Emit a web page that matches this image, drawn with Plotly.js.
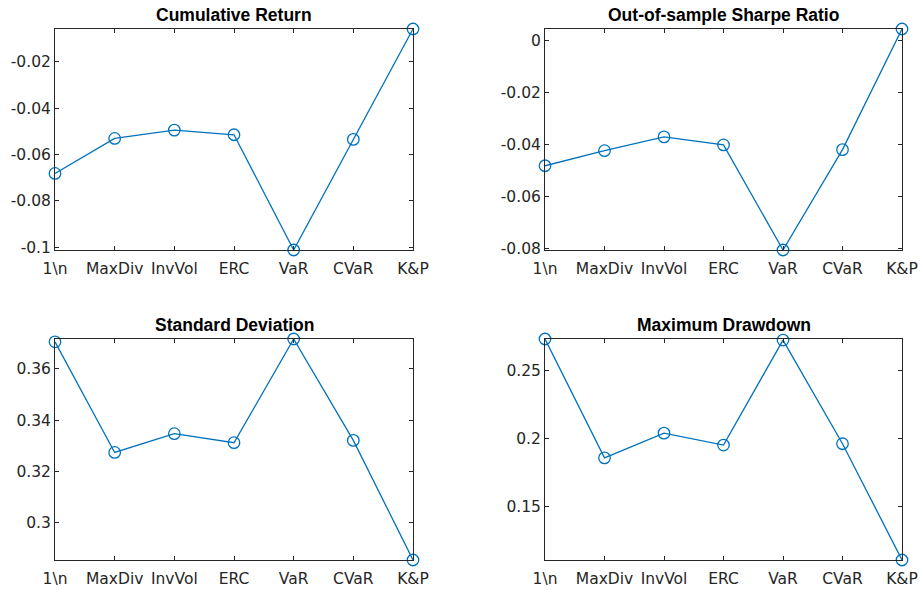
<!DOCTYPE html>
<html>
<head>
<meta charset="utf-8">
<script src="https://cdn.plot.ly/plotly-3.0.1.min.js"></script>
<style>html,body{margin:0;padding:0;background:#fff;}#chart{width:921px;height:590px;}</style>
</head>
<body>
<div id="chart"></div>
<script>
const categories = ['1\\n', 'MaxDiv', 'InvVol', 'ERC', 'VaR', 'CVaR', 'K&P'];

const cumulativeReturn = [-0.0682, -0.0531, -0.0495, -0.0515, -0.1012, -0.0535, -0.0059];
const sharpeRatio      = [-0.0481, -0.0423, -0.0370, -0.0401, -0.0805, -0.0419, 0.0045];
const stdDeviation     = [0.3705, 0.3274, 0.3347, 0.3312, 0.3716, 0.3321, 0.2855];
const maxDrawdown      = [0.2730, 0.1855, 0.2037, 0.1949, 0.2722, 0.1959, 0.1103];

const titles = ['Cumulative Return', 'Out-of-sample Sharpe Ratio', 'Standard Deviation', 'Maximum Drawdown'];

const ticksCR = [-0.1, -0.08, -0.06, -0.04, -0.02];
const labelsCR = ['-0.1', '-0.08', '-0.06', '-0.04', '-0.02'];
const ticksSR = [-0.08, -0.06, -0.04, -0.02, 0];
const labelsSR = ['-0.08', '-0.06', '-0.04', '-0.02', '0'];
const ticksSD = [0.30, 0.32, 0.34, 0.36];
const labelsSD = ['0.3', '0.32', '0.34', '0.36'];
const ticksMD = [0.15, 0.20, 0.25];
const labelsMD = ['0.15', '0.2', '0.25'];

const series = [cumulativeReturn, sharpeRatio, stdDeviation, maxDrawdown];
const tickSets = [[ticksCR, labelsCR], [ticksSR, labelsSR], [ticksSD, labelsSD], [ticksMD, labelsMD]];

const W = 921, H = 590;
const xDomains = [[55 / W, 413 / W], [545 / W, 902 / W]];
const yDomains = [[1 - 250 / H, 1 - 29 / H], [1 - 560 / H, 1 - 339 / H]];

const axisColor = '#262626';
const lineBlue = '#0072BD';
const tickFam = '"DejaVu Sans", Arial, sans-serif';
const titleFam = 'Arial, "Liberation Sans", Helvetica, sans-serif';

const traces = [];
const layout = {
  width: W, height: H,
  margin: {l: 0, r: 0, t: 0, b: 0},
  paper_bgcolor: '#fff', plot_bgcolor: '#fff',
  showlegend: false,
  annotations: []
};

series.forEach((vals, i) => {
  const n = i + 1;
  const xa = 'x' + (n === 1 ? '' : n);
  const ya = 'y' + (n === 1 ? '' : n);
  traces.push({
    x: categories, y: vals, xaxis: xa, yaxis: ya,
    type: 'scatter', mode: 'lines+markers', cliponaxis: false,
    line: {color: lineBlue, width: 1.3},
    marker: {symbol: 'circle-open', size: 11.5, color: lineBlue, line: {width: 1.3, color: lineBlue}}
  });
  const col = i % 2, row = Math.floor(i / 2);
  const common = {
    showline: true, linecolor: axisColor, linewidth: 1, mirror: 'ticks',
    ticks: 'inside', ticklen: 4, tickcolor: axisColor, tickwidth: 1,
    showgrid: false, zeroline: false,
    tickfont: {family: tickFam, size: 15.5, color: axisColor}
  };
  layout['xaxis' + (n === 1 ? '' : n)] = Object.assign({}, common, {
    domain: xDomains[col], anchor: ya, type: 'category',
    range: [0, categories.length - 1], ticklabelstandoff: 4
  });
  layout['yaxis' + (n === 1 ? '' : n)] = Object.assign({}, common, {
    domain: yDomains[row], anchor: xa,
    range: [Math.min(...vals), Math.max(...vals)],
    tickmode: 'array', tickvals: tickSets[i][0], ticktext: tickSets[i][1]
  });
  layout.annotations.push({
    text: '<b>' + titles[i] + '</b>',
    xref: 'paper', yref: 'paper',
    x: (xDomains[col][0] + xDomains[col][1]) / 2,
    y: yDomains[row][1], xanchor: 'center', yanchor: 'bottom', yshift: 2,
    showarrow: false,
    font: {family: titleFam, size: 17.5, color: '#000'}
  });
});

Plotly.newPlot('chart', traces, layout, {staticPlot: true, displayModeBar: false});
</script>
</body>
</html>
